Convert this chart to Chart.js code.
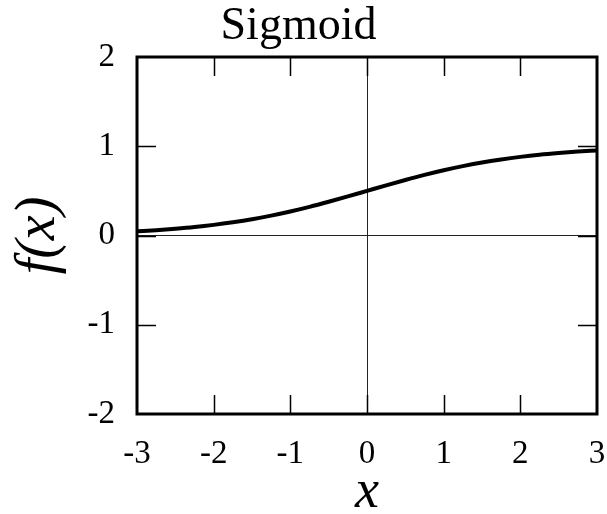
<!DOCTYPE html>
<html>
<head>
<meta charset="utf-8">
<script src="https://cdn.jsdelivr.net/npm/chart.js@4/dist/chart.umd.min.js"></script>
<style>
html, body { margin: 0; padding: 0; background: #fff; }
</style>
</head>
<body>
<canvas id="myChart" width="607" height="514"></canvas>
<script>
// sigmoid curve
const xValues = [-3, -2.75, -2.5, -2.25, -2, -1.75, -1.5, -1.25, -1, -0.75, -0.5, -0.25, 0,
                 0.25, 0.5, 0.75, 1, 1.25, 1.5, 1.75, 2, 2.25, 2.5, 2.75, 3];
const yValues = [0.047, 0.060, 0.076, 0.095, 0.119, 0.148, 0.182, 0.223, 0.269, 0.321, 0.378, 0.438, 0.5,
                 0.562, 0.622, 0.679, 0.731, 0.777, 0.818, 0.852, 0.881, 0.905, 0.924, 0.940, 0.953];

const xTicks = [-3, -2, -1, 0, 1, 2, 3];
const yTicks = [-2, -1, 0, 1, 2];

const serif = "'Liberation Serif', 'Times New Roman', serif";

// frame + inward tick marks (gnuplot look)
const framePlugin = {
  id: 'frame',
  afterDraw(chart) {
    const ctx = chart.ctx;
    const a = chart.chartArea;
    const xs = chart.scales.x, ys = chart.scales.y;
    const len = 19;
    ctx.save();
    ctx.strokeStyle = '#000';
    ctx.lineWidth = 1.5;
    ctx.beginPath();
    xTicks.forEach(function(v) {
      if (v === xTicks[0] || v === xTicks[xTicks.length - 1]) return;
      var px = Math.round(xs.getPixelForValue(v)) + 0.5;
      ctx.moveTo(px, a.bottom); ctx.lineTo(px, a.bottom - len);
      ctx.moveTo(px, a.top); ctx.lineTo(px, a.top + len);
    });
    yTicks.forEach(function(v) {
      if (v === yTicks[0] || v === yTicks[yTicks.length - 1]) return;
      var py = Math.round(ys.getPixelForValue(v)) + 0.5;
      ctx.moveTo(a.left, py); ctx.lineTo(a.left + len, py);
      ctx.moveTo(a.right, py); ctx.lineTo(a.right - len, py);
    });
    ctx.stroke();
    ctx.lineWidth = 3;
    ctx.strokeRect(a.left, a.top, a.right - a.left, a.bottom - a.top);
    ctx.restore();
  }
};

const points = xValues.map(function(x, i) { return { x: x, y: yValues[i] }; });

new Chart(document.getElementById('myChart'), {
  type: 'line',
  data: {
    datasets: [{
      data: points,
      borderColor: '#000',
      borderWidth: 4,
      pointRadius: 0,
      cubicInterpolationMode: 'monotone',
      fill: false
    }]
  },
  options: {
    responsive: false,
    animation: false,
    devicePixelRatio: 1,
    layout: { padding: { top: 0, right: 10, bottom: 0, left: 0 } },
    plugins: {
      legend: { display: false },
      tooltip: { enabled: false },
      title: {
        display: true,
        text: 'Sigmoid',
        color: '#000',
        font: { family: serif, size: 46, weight: 'normal', lineHeight: 1 },
        padding: { top: 4, bottom: 7 }
      }
    },
    scales: {
      x: {
        type: 'linear',
        min: -3, max: 3,
        afterBuildTicks: function(s) { s.ticks = xTicks.map(function(v) { return { value: v }; }); },
        afterFit: function(s) { s.height = 100; s.paddingLeft = 0; s.paddingRight = 0; },
        ticks: { color: '#000', padding: 21, font: { family: serif, size: 33 }, maxRotation: 0 },
        grid: {
          drawTicks: false,
          color: function(c) { return c.tick && c.tick.value === 0 ? '#222' : 'rgba(0,0,0,0)'; },
          lineWidth: 1
        },
        border: { display: false },
        title: {
          display: true,
          text: 'x',
          color: '#000',
          font: { family: serif, size: 54, style: 'italic', lineHeight: 1 },
          padding: { top: 0, bottom: -6 }
        }
      },
      y: {
        type: 'linear',
        min: -2, max: 2,
        afterBuildTicks: function(s) { s.ticks = yTicks.map(function(v) { return { value: v }; }); },
        afterFit: function(s) { s.width = 137; s.paddingTop = 0; s.paddingBottom = 0; },
        ticks: { color: '#000', padding: 22, font: { family: serif, size: 33 } },
        grid: {
          drawTicks: false,
          color: function(c) { return c.tick && c.tick.value === 0 ? '#222' : 'rgba(0,0,0,0)'; },
          lineWidth: 1
        },
        border: { display: false },
        title: {
          display: true,
          text: 'f(x)',
          color: '#000',
          font: { family: serif, size: 56, style: 'italic', lineHeight: 1 },
          padding: { top: 11, bottom: 0 }
        }
      }
    }
  },
  plugins: [framePlugin]
});
</script>
</body>
</html>
